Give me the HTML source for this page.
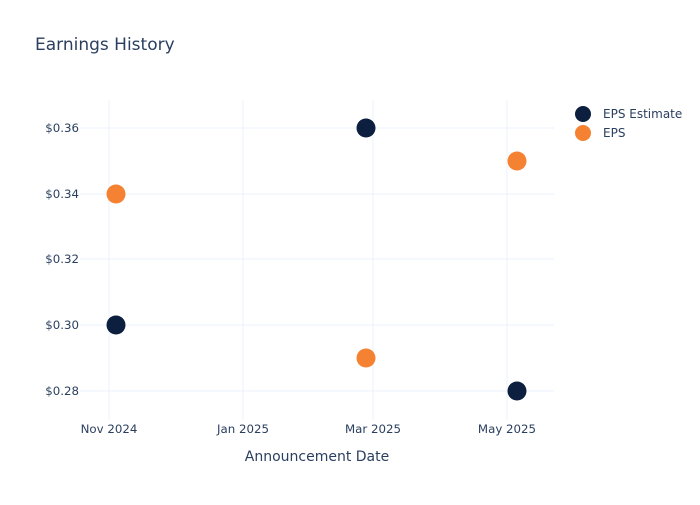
<!DOCTYPE html>
<html><head><style>
body{margin:0;background:#fff;}
svg text{font-family:"DejaVu Sans","Liberation Sans",sans-serif;fill:#2a3f5f;}
</style></head><body>
<svg width="700" height="500" xmlns="http://www.w3.org/2000/svg">
<rect width="700" height="500" fill="#fff"/>
<text x="35" y="50" font-size="17">Earnings History</text>
<g stroke="#ebf0f8" stroke-width="1">
<line x1="80" x2="554" y1="128" y2="128"/>
<line x1="80" x2="554" y1="194" y2="194"/>
<line x1="80" x2="554" y1="259" y2="259"/>
<line x1="80" x2="554" y1="325" y2="325"/>
<line x1="80" x2="554" y1="391" y2="391"/>
<line x1="109" x2="109" y1="100" y2="420"/>
<line x1="243" x2="243" y1="100" y2="420"/>
<line x1="373" x2="373" y1="100" y2="420"/>
<line x1="507" x2="507" y1="100" y2="420"/>
</g>
<g font-size="11.8" text-anchor="end">
<text x="79" y="132">$0.36</text>
<text x="79" y="198">$0.34</text>
<text x="79" y="263">$0.32</text>
<text x="79" y="329">$0.30</text>
<text x="79" y="395">$0.28</text>
</g>
<g font-size="11.8" text-anchor="middle">
<text x="109" y="433">Nov 2024</text>
<text x="243" y="433">Jan 2025</text>
<text x="373" y="433">Mar 2025</text>
<text x="507" y="433">May 2025</text>
</g>
<text x="317" y="461" font-size="14" text-anchor="middle">Announcement Date</text>
<g fill="#0c1f3f">
<circle cx="116" cy="325" r="9.5"/>
<circle cx="366" cy="128" r="9.5"/>
<circle cx="517" cy="391" r="9.5"/>
</g>
<g fill="#f58232">
<circle cx="116" cy="194" r="9.5"/>
<circle cx="366" cy="358" r="9.5"/>
<circle cx="517" cy="161" r="9.5"/>
</g>
<circle cx="583" cy="114" r="8" fill="#0c1f3f"/>
<circle cx="583" cy="133" r="8" fill="#f58232"/>
<text x="603" y="118" font-size="12">EPS Estimate</text>
<text x="603" y="137" font-size="12">EPS</text>
</svg>
</body></html>
